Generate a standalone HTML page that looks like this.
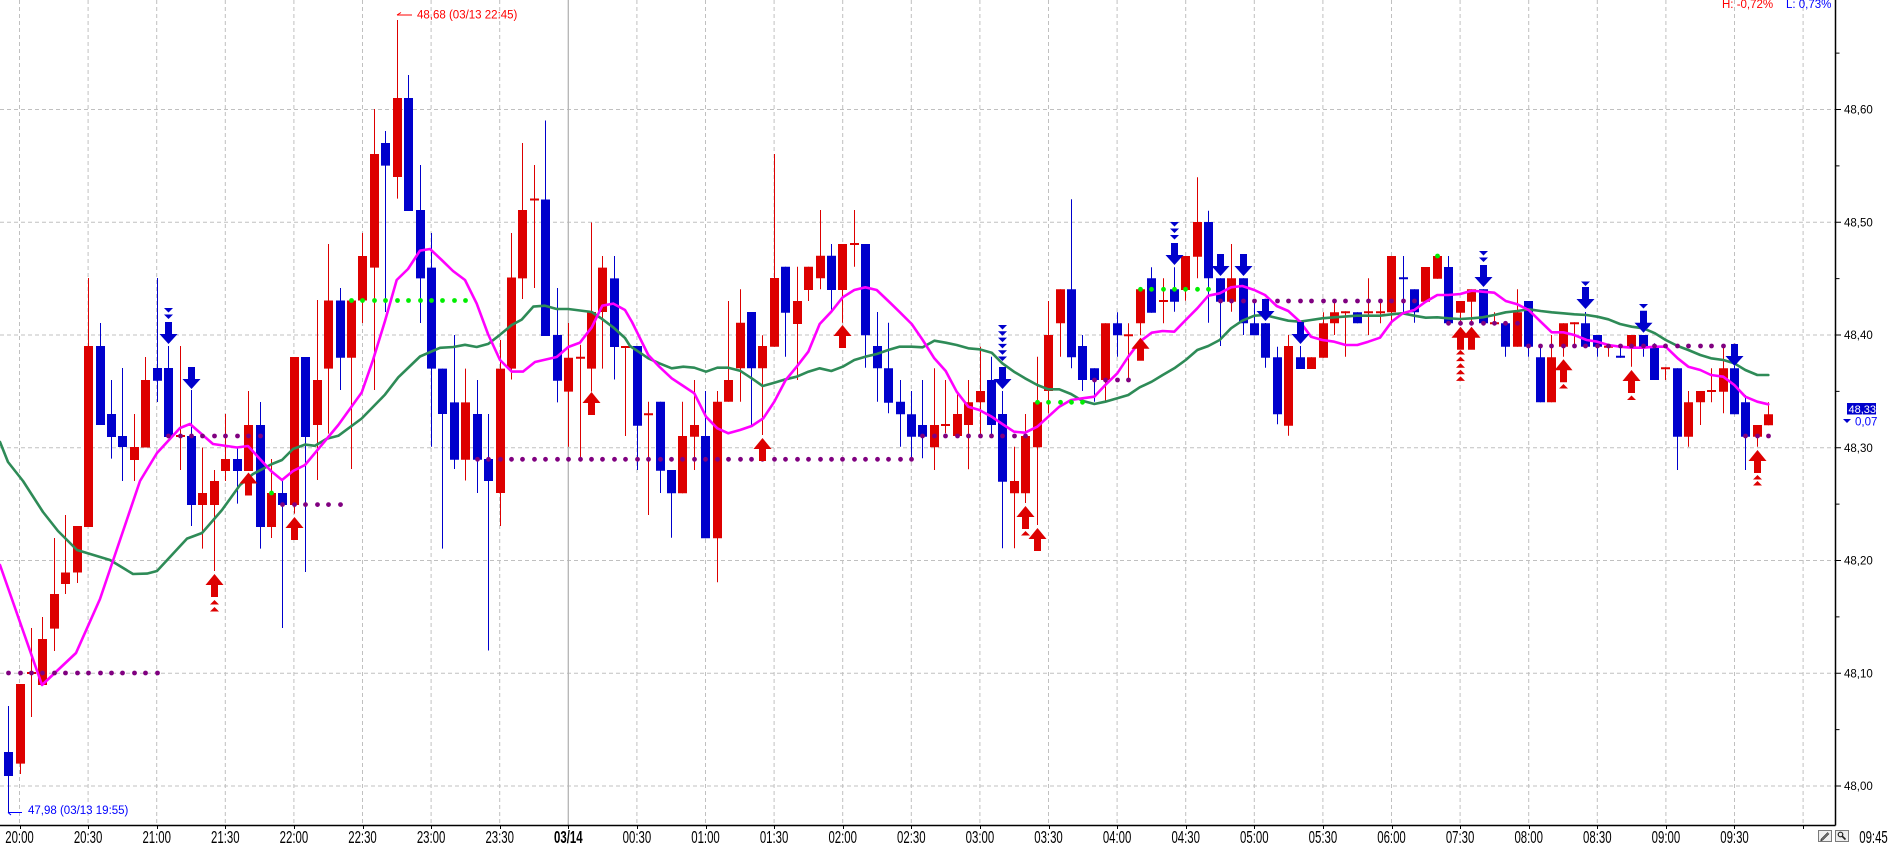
<!DOCTYPE html>
<html><head><meta charset="utf-8">
<style>
html,body{margin:0;padding:0;background:#fff;overflow:hidden;}
svg{display:block;}
text{font-family:"Liberation Sans",Arial,sans-serif;}
</style></head>
<body>
<svg id="c" xmlns="http://www.w3.org/2000/svg" width="1895" height="846" viewBox="0 0 1895 846">
<rect width="1895" height="846" fill="#fff"/>
<g id="grid"></g>
<g id="bars"></g>
<g id="lines"></g>
<g id="dots"></g>
<g id="arrows"></g>
<g id="axes"></g>

<!-- y axis labels -->
<g font-size="11.5" fill="#000">
<text x="1844" y="113.5">48,60</text>
<text x="1844" y="226.25">48,50</text>
<text x="1844" y="339">48,40</text>
<text x="1844" y="451.75">48,30</text>
<text x="1844" y="564.5">48,20</text>
<text x="1844" y="677.25">48,10</text>
<text x="1844" y="790">48,00</text>
</g>

<!-- price tag -->
<rect x="1847" y="403" width="29" height="11.5" fill="#0000cc"/>
<text x="1848.5" y="413" fill="#fff" font-size="11">48,33</text>
<path d="M1843,419h8l-4,4z" fill="#0000cc"/>
<text x="1855" y="425.5" fill="#0000ff" font-size="11.5">0,07</text>

<!-- high / low markers -->
<path d="M397,15H412M397,15L401,12.5" stroke="#ff0000" stroke-width="1" fill="none"/>
<text x="417" y="18.5" fill="#ff0000" font-size="11.5">48,68 (03/13 22:45)</text>
<path d="M8,812.5H22M8,812.5L11,815" stroke="#0000ff" stroke-width="1" fill="none"/>
<text x="28" y="814" fill="#0000ff" font-size="11.5">47,98 (03/13 19:55)</text>

<!-- top right -->
<text x="1722" y="8" fill="#ff0000" font-size="11.5">H: -0,72%</text>
<text x="1786" y="8" fill="#0000ff" font-size="11.5">L: 0,73%</text>

<!-- x labels -->
<g font-size="12" text-anchor="middle" fill="#000">
<text transform="translate(19.5,843) scale(0.95,1.5)">20:00</text>
<text transform="translate(88.1,843) scale(0.95,1.5)">20:30</text>
<text transform="translate(156.7,843) scale(0.95,1.5)">21:00</text>
<text transform="translate(225.3,843) scale(0.95,1.5)">21:30</text>
<text transform="translate(293.9,843) scale(0.95,1.5)">22:00</text>
<text transform="translate(362.5,843) scale(0.95,1.5)">22:30</text>
<text transform="translate(431.1,843) scale(0.95,1.5)">23:00</text>
<text transform="translate(499.7,843) scale(0.95,1.5)">23:30</text>
<text transform="translate(568.3,843) scale(0.95,1.5)" font-weight="bold">03/14</text>
<text transform="translate(636.9,843) scale(0.95,1.5)">00:30</text>
<text transform="translate(705.5,843) scale(0.95,1.5)">01:00</text>
<text transform="translate(774.1,843) scale(0.95,1.5)">01:30</text>
<text transform="translate(842.7,843) scale(0.95,1.5)">02:00</text>
<text transform="translate(911.3,843) scale(0.95,1.5)">02:30</text>
<text transform="translate(979.9,843) scale(0.95,1.5)">03:00</text>
<text transform="translate(1048.5,843) scale(0.95,1.5)">03:30</text>
<text transform="translate(1117.1,843) scale(0.95,1.5)">04:00</text>
<text transform="translate(1185.7,843) scale(0.95,1.5)">04:30</text>
<text transform="translate(1254.3,843) scale(0.95,1.5)">05:00</text>
<text transform="translate(1322.9,843) scale(0.95,1.5)">05:30</text>
<text transform="translate(1391.5,843) scale(0.95,1.5)">06:00</text>
<text transform="translate(1460.1,843) scale(0.95,1.5)">07:30</text>
<text transform="translate(1528.7,843) scale(0.95,1.5)">08:00</text>
<text transform="translate(1597.3,843) scale(0.95,1.5)">08:30</text>
<text transform="translate(1665.9,843) scale(0.95,1.5)">09:00</text>
<text transform="translate(1734.5,843) scale(0.95,1.5)">09:30</text>
<text transform="translate(1873.5,843) scale(0.95,1.5)">09:45</text>
</g>

<!-- bottom-right icons -->
<rect x="1818.5" y="830.5" width="13" height="11" fill="#eeeeee" stroke="#7a7a7a"/>
<path d="M1821,839.5L1828,832.5M1822.5,840L1829,833.5M1821,839.5L1821,840.5L1822.5,840" stroke="#333" stroke-width="1" fill="none"/>
<rect x="1835.5" y="830.5" width="13" height="11" fill="#eeeeee" stroke="#7a7a7a"/>
<circle cx="1840.5" cy="834.5" r="2.3" fill="none" stroke="#222" stroke-width="1.2"/>
<path d="M1842,836L1845.5,839.5" stroke="#222" stroke-width="1.6"/>
</svg>
<script>
(function(){
const NS="http://www.w3.org/2000/svg";
function el(p,t,a){const e=document.createElementNS(NS,t);for(const k in a)e.setAttribute(k,a[k]);p.appendChild(e);return e;}
const cx=k=>8.07+11.43*k;
const xi=k=>Math.round(cx(k))+0.5;

// grid
const g=document.getElementById('grid');
for(let j=0;j<7;j++){const y=786-112.75*j;el(g,'line',{x1:0,x2:1835,y1:y,y2:y,stroke:'#c0c0c0','stroke-dasharray':'4,3','stroke-width':1});}
for(let i=0;i<27;i++){const x=19.5+68.6*i;
 if(i==8) el(g,'line',{x1:x,x2:x,y1:0,y2:825,stroke:'#b4b4b4','stroke-width':1.3});
 else el(g,'line',{x1:x,x2:x,y1:0,y2:825,stroke:'#c0c0c0','stroke-dasharray':'4,3','stroke-width':1});}

// bars
const B=[
['B',706,812,752,776],['R',684,774,684,763.6],['R',628,717,672,674],['R',617,685,639,685],['R',538,651,594,628.6],
['R',515,594,572.5,584],['R',526,583,526,572.5],['R',278,527,346,527],['B',323,425,346,425],['B',380,458.6,414,437],
['B',368,481,436,447],['R',414,481,447,460],['R',357,447.5,380,447.5],['B',278,402,368,380.7],['B',346,437,368,437],
['R',346,470,435,437],['B',390,526,436,505],['R',447.5,548.6,493,505],['R',470,571,481,505],['R',414,481,459,471],
['B',447.5,503.6,459,471],['R',391,471,425,471],['B',402,548.6,425,527],['R',459,538,493,527],['B',481,628,493,505],
['R',357,513.6,357,505],['B',357,572,357,437],['R',300,480,380,425],['R',244,433.6,300.5,368.6],['B',288,390,300.5,357.8],
['R',300.5,469,300.5,357.8],['R',233,323,256,300.5],['R',109,390,154,267.6],['B',131,312,143,165.6],['R',20,198.6,98,177],
['B',75,211,98,211],['B',165,323,210,278.4],['B',233,446.7,267.6,368.6],['B',368.6,548.6,368.6,414],['B',335,469,402.4,459.7],
['R',368.6,480.5,402.4,459.7],['B',380,493,414,459.7],['B',414,650.5,459,481],['R',340,526,368.6,493],['R',233,379.5,277.5,368.6],
['R',143,299,210,278.4],['R',165,288,198.5,200.5],['B',120.5,336,199.5,336],['B',288,402.4,335,380.7],['R',323,446.7,357.8,391.6],
['R',344.8,459.7,356.8,358.8],['R',222.5,391.6,312,368.6],['R',256,368.6,267.6,312],['B',256,379.5,278.4,347],['R',347,436,346,348],
['B',346,470,346,425.7],['R',401.7,515,413.3,415.3],['B',401.7,493,401.7,470.7],['B',470,537.7,470,493.3],['R',401.7,493.3,436,493.3],
['R',380,470,425,436.7],['B',391,538.3,436,538.3],['R',391,582.3,401.7,538.3],['R',301,401.7,380,401.7],['R',289.3,401.7,322.7,368.3],
['B',312,425,312,368.3],['R',335.3,435,346,368.3],['R',154,346.7,278,346.7],['B',266.7,356.7,266.7,312.7],['R',266.7,380,301,324],
['R',266.7,301,266.7,290],['R',210,289.3,255.7,278.3],['B',244,312.7,255.7,290],['R',244,322.7,244,290],['R',210,266.7,243,245],
['B',244,367.7,244,335.3],['B',312,401.7,346,368.3],['B',322.7,413.3,368.3,402.7],['B',380,446.7,401.7,414.3],['B',391,460,414.3,436.7],
['B',380,458.3,425,436.7],['R',368.3,470,425,447.3],['R',380,433.3,424,426],['R',392.7,436,414,436],['R',380,469.3,402.3,425],
['R',346.7,436,391,402.3],['B',356.7,436,380,425],['B',391,548.3,414,481.7],['R',446.7,548.3,481,493.3],['R',414,503,436,493.3],
['R',356.7,525,402.3,447.3],['R',301,413.3,335,391],['R',289.3,356.7,289.3,323.3],['B',199.3,368.3,289.3,357.3],['B',335,391,346,380],
['B',368.3,401.7,368.3,380],['R',323.3,400.7,323.3,380],['B',312.3,356.7,323.3,335.3],['R',323.3,380,334.3,336.3],['R',289.3,335.3,289.3,323.3],
['B',267.3,312.7,278.3,312.7],['R',278.3,323.3,300,302],['B',267.3,311.7,289.3,301.7],['R',256,300.7,256,290],['R',177.3,278.3,222,256.7],
['B',210.7,322.7,222,278.3],['B',278.3,346,278.3,301.7],['R',244,311.7,278.3,301.7],['B',278.3,335,278.3,323.3],['B',300,335.3,323.3,335.3],
['B',323,367.7,323.3,357.7],['B',346.7,424.3,357.3,414.3],['R',335,435.7,346,425.7],['B',346,369,357.3,369],['R',357.3,369,357.3,369],
['R',312.3,357.7,323.3,357.7],['R',301.7,335,312.3,323.3],['R',312.3,356.7,311.3,313.3],['B',312.3,323.3,312.3,323.3],['R',278.3,335,311.3,313.3],
['R',301.7,323.3,311.3,313.3],['R',256,323.3,256,312.3],['B',256,312.3,277.3,279.3],['B',289.3,322.7,289.3,312.3],['R',267,301.7,267,301.7],
['R',256,278.7,256,278.7],['B',256,323.3,267,323.3],['R',301,323.3,301,312.7],['R',289.3,323.3,289.3,301.7],['B',289.3,323.3,289.3,323.3],
['R',312.3,323.3,322.3,324.3],['B',323.3,356.7,323.3,346.7],['R',289.3,346.7,312.3,346.7],['B',301,356.7,301,346.7],['B',346.7,402.3,357.3,402.3],
['R',335,402.3,357.3,402.3],['R',323.3,356.7,323.3,346.7],['R',323.3,346.7,322.3,324.3],['B',312,346.7,323.3,346.7],['B',335,356.7,335,346.7],
['R',346.7,356.7,345.7,347.7],['B',346.7,356.7,355.7,357.7],['R',335,366.7,335,346.7],['B',335,356.7,335,346.7],['B',343.3,380,346.7,380],
['R',367.3,380,367.3,369.3],['B',368.3,470,368.3,436.7],['R',391,446.7,402.3,436.7],['R',391,425,391,402.3],['R',368.3,402.3,390,392],
['R',346.7,413.3,368.3,391.7],['B',366,414.3,368.3,414.3],['B',395,470,402.3,436.7],['R',425,446.7,425,436.7],['R',402.3,425.3,414.3,425.3]
];
const bg=document.getElementById('bars');
const COL={R:'#dd0000',B:'#0000cc'};
let dw={R:'',B:''},db={R:'',B:''};
B.forEach((b,k)=>{
 const x=xi(k),c=b[0];
 let wt=Math.min(b[1],b[3]),wb=Math.max(b[2],b[4]);
 dw[c]+=`M${x},${wt}V${wb}`;
 let t=b[3],bo=b[4];
 if(bo-t<1.5){const m=(t+bo)/2;t=m-0.75;bo=m+0.75;}
 db[c]+=`M${x-4.5},${t}h9V${bo}h-9z`;
});
['R','B'].forEach(c=>{
 el(bg,'path',{d:dw[c],stroke:COL[c],'stroke-width':1,fill:'none'});
 el(bg,'path',{d:db[c],fill:COL[c]});
});

// moving average lines
const M=[[0,565],[42,685],[76,653],[100,599],[121.7,535],[140,481],[157,453],[180,428],[190,424],[213,444],[237,447.5],[248,446],[271,471],[282,480],[293,471],[305,465],[315,453],
[338.3,425],[361.7,392.5],[373,360],[385,321],[396.7,280],[408,269],[420,250.6],[430,249],[441.7,260],[453,271],[465,280],[476.7,303.6],[488,334],[500,360],[511.7,371.6],[523,371.6],[535,362],[556.7,357],[568.3,347],[580,342.6],[591.7,327.4],[602.3,305.7],[613.3,303.6],[625,310],[632,322],
[648.3,355],[659.3,366.7],[671.7,378.3],[683.3,386],[694.3,393.3],[706,416.7],[717.3,428.3],[728.3,433.3],[740,430],[751.7,426],[763.3,418.3],[774.3,401.7],[785.7,380],[796.7,366.7],[808.3,351.7],[819.7,324],[831.3,311.7],[842.7,297.3],[854.3,290],[865.3,287.3],[876.7,290],[888.3,301],[899.3,311.7],[911.7,324],[922.7,340],[934.3,358.3],[945.7,371],
[956.7,391.7],[968.3,406.7],[979.3,410],[991.7,416.7],[1002.3,424],[1014,431.7],[1025,432.7],[1037.3,426.7],[1048.3,416.7],[1059.3,406.7],[1071,400],[1082.3,398.3],[1094.3,396.7],[1105.3,385],[1117.3,373.3],[1128.3,356.7],[1139.7,341.7],[1151.7,332.7],[1162.7,331],[1174.3,331.7],[1185.7,320],[1197.3,308.3],[1208.3,295.7],[1219.7,293.3],[1231,287.3],[1242.3,286],[1254.3,290],[1265,295],
[1276.7,306],[1288.3,311],[1300,321.7],[1311,336.7],[1322.3,340],[1334.3,341.7],[1345.7,345],[1357.3,345],[1368.3,341.7],[1380,337.7],[1391.7,321.7],[1402.7,313.3],[1414.3,310],[1425.7,301.7],[1437.3,295],[1448.3,295],[1460.3,294],[1471.7,290.7],[1482.7,291.7],[1494.3,292.7],[1505.7,301],[1517.3,304.3],[1528.7,310],[1540.7,321.7],[1551.7,332.3],[1563.3,332.3],[1574.3,335],
[1586.7,340],[1597.3,341.7],[1608.3,345],[1620,346.7],[1631.7,347.7],[1643.3,347.7],[1655,346.7],[1665.7,346.7],[1677.7,358.3],[1688.3,366.7],[1700.3,370],[1711,375],[1723.3,376.7],[1734.3,385],[1745.3,396.7],[1757.3,401.7],[1768.3,404.3]];
const G=[[0,442],[8,462],[23,481],[43,512],[58,531],[77,550],[110,560],[133,574],[147,573.6],[157,571],[187,538.6],[202,533],[222,510],[240,485],[253,474],[272,464],[282,460],[293,449],[305,444.6],
[315,445.8],[326.7,438.8],[338.3,435.8],[361.7,418.5],[385,394.6],[398.3,377.3],[420,356.5],[440,347.8],[453.3,347],[465,344.8],[476.7,347],[488.3,343.9],[500,334.8],[511.7,325],[521.7,319.6],[533.3,306.6],[545,305.7],[556.7,309],[568.3,309],[591.7,312],[601.7,318.7],[613.3,327.4],[625,338],
[630,346],[648.3,358.3],[659.3,363.3],[671.7,368.3],[683.3,366.7],[694.3,367.7],[706,371.7],[717.3,367.7],[728.3,367.7],[740,370.7],[751.7,378.3],[762.7,386],[774.3,382.7],[785.7,379.3],[796.7,376.7],[808.3,371.7],[819.7,368.3],[831.3,371],[842.7,366.7],[854.3,360],[865.3,356.7],[876.7,354],[888.3,350],[899.3,346.7],[911.7,346.7],[922.7,347.3],[934.3,340.7],[945.7,342.7],
[956.7,345],[968.3,348.3],[979.3,349.3],[991.7,352.7],[1002.3,363.3],[1014,371.7],[1025,378.3],[1037.3,385],[1048.3,389.3],[1059.3,389.3],[1071,394],[1082.3,400.7],[1094.3,404],[1105.3,401.7],[1117.3,398.3],[1128.3,395],[1139.7,387.3],[1151.7,381.7],[1162.7,375],[1174.3,368.3],[1185.7,360],[1197.3,350],[1208.3,346],[1219.7,340],[1231,328.3],[1242.3,320.7],[1254.3,315.7],[1265,315],
[1271.7,316.7],[1288.3,320.7],[1300,321.7],[1311,320],[1322.3,318.3],[1334.3,317.3],[1356.7,315.7],[1380,315.7],[1391.7,314.3],[1402.7,313.3],[1414.3,315.7],[1425.7,317.7],[1437.3,317.3],[1448.3,318.3],[1460.3,319],[1471.7,318.3],[1482.7,317.3],[1494.3,315],[1505.7,312.3],[1517.3,311],[1528.7,309.3],[1540.7,311],[1551.7,312.3],[1563.3,313.3],[1574.3,314.3],
[1586.7,315],[1597.3,316.7],[1608.3,319.3],[1620,324],[1631.7,326.7],[1643.3,328.3],[1655,333.3],[1665.7,340],[1677.7,346],[1688.3,350],[1700.3,355],[1711,358.3],[1723.3,360],[1734.3,363.3],[1745.3,370],[1757.3,375],[1768.3,375]];
const lg=document.getElementById('lines');
el(lg,'polyline',{points:G.map(p=>p.join(',')).join(' '),fill:'none',stroke:'#2e8b57','stroke-width':2.6,'stroke-linejoin':'round','stroke-linecap':'round'});
el(lg,'polyline',{points:M.map(p=>p.join(',')).join(' '),fill:'none',stroke:'#ff00ff','stroke-width':2.6,'stroke-linejoin':'round','stroke-linecap':'round'});

// dots
const D=[[0,13,673,'#800080'],[14,22,436,'#800080'],[23,23,493,'#00ee00'],[24,29,504.6,'#800080'],[30,40,300.5,'#00ee00'],
[41,79,459.3,'#800080'],[80,89,436,'#800080'],[90,94,402.3,'#00ee00'],[95,98,380,'#800080'],[99,105,289.3,'#00ee00'],
[106,123,301,'#800080'],[125,125,256,'#00ee00'],[126,132,323.3,'#800080'],[133,151,346,'#800080'],[152,154,436,'#800080']];
const dg=document.getElementById('dots');
D.forEach(s=>{for(let k=s[0];k<=s[1];k++)el(dg,'circle',{cx:xi(k),cy:s[2],r:2.4,fill:s[3]});});

// arrows
const ag=document.getElementById('arrows');
function down(k,top,ch){const x=xi(k);let d=`M${x-3.5},${top}h7v12h5.5l-9,10l-9,-10h5.5z`;(ch||[]).forEach(y=>{d+=`M${x-4.5},${y}h9l-4.5,4.5z`;});el(ag,'path',{d,fill:'#0000cc'});}
function up(k,top,ch){const x=xi(k);let d=`M${x},${top}l9,11h-5.5v12h-7v-12h-5.5z`;(ch||[]).forEach(y=>{d+=`M${x},${y}l4.5,4.5h-9z`;});el(ag,'path',{d,fill:'#dd0000'});}
down(14,322,[308,314.5]);down(16,367);down(87,367,[325,331.3,337.6,343.9,350.2,356.5]);down(102,243,[222,228.5,235]);
down(106,254);down(108,254);down(110,299);down(113,322);down(129,265,[251,257.5]);down(138,287,[281.5]);down(143,310.7,[304]);down(151,344);
up(18,574,[600,607]);up(21,472.5);up(25,517);up(51,392);up(66,438);up(73,325);up(89,506,[531]);up(90,528);up(99,337.7);
up(127,326.7,[350,356.6,363.2,369.8,376.4]);up(128,326.7);up(136,359.3,[384]);up(142,370,[395.5]);up(153,450,[475,481]);

// axes
const ax=document.getElementById('axes');
el(ax,'line',{x1:0,x2:1835.5,y1:825.5,y2:825.5,stroke:'#000','stroke-width':1.5});
el(ax,'line',{x1:1835.5,x2:1835.5,y1:0,y2:825.5,stroke:'#000','stroke-width':1.5});
for(let j=0;j<7;j++){const y=786-112.75*j;el(ax,'line',{x1:1835,x2:1841,y1:y,y2:y,stroke:'#000','stroke-width':1});
 const y2=y-56.375;el(ax,'line',{x1:1835,x2:1839.5,y1:y2,y2:y2,stroke:'#000','stroke-width':1});}
for(let i=0;i<27;i++){const x=Math.round(19.5+68.6*i)+0.5;el(ax,'line',{x1:x,x2:x,y1:826,y2:829,stroke:'#000','stroke-width':1});}
})();
</script>
</body></html>
